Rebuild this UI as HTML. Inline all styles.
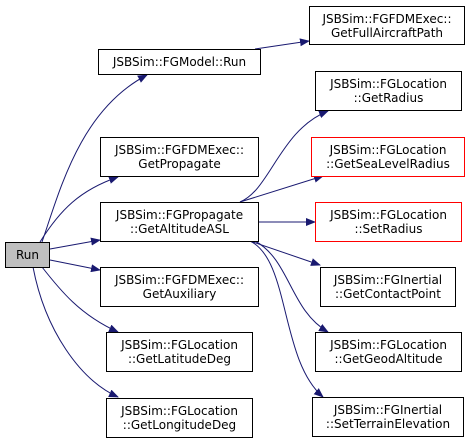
<!DOCTYPE html>
<html><head><style>
body{margin:0;background:#fff;}
.n{position:absolute;box-sizing:border-box;border:1px solid #000;background:#fff;font:12px "DejaVu Sans","Liberation Sans",sans-serif;text-align:center;line-height:14px;display:flex;align-items:center;justify-content:center;color:#000;}
.r{border-color:#f00;}
</style></head><body>
<div style="position:relative;width:473px;height:444px;overflow:hidden">
<svg width="473" height="444" style="position:absolute;left:0;top:0">
<defs><marker id="a" markerWidth="10" markerHeight="8" refX="9" refY="4" orient="auto" markerUnits="userSpaceOnUse"><path d="M0,0L10,4L0,8z" fill="#191970"/></marker></defs>
<g fill="none" stroke="#191970" stroke-width="1" marker-end="url(#a)">
<path d="M42,242C60,190 80,110 147,75"/>
<path d="M40,242C60,210 80,190 118,177"/>
<path d="M50,249L100,240"/>
<path d="M50,260L100,270"/>
<path d="M42,267C60,290 80,315 118,332"/>
<path d="M33,267C45,330 80,380 118,397"/>
<path d="M255,49L309,41"/>
<path d="M240,202C270,190 280,130 328,111"/>
<path d="M240,202L323,176"/>
<path d="M259,222L315,222"/>
<path d="M250,241L320,265"/>
<path d="M255,241C290,260 290,310 328,332"/>
<path d="M250,241C290,260 280,360 323,397"/>
</g></svg>
<div class="n" style="left:5px;top:242px;width:45px;height:26px;background:#bfbfbf">Run</div>
<div class="n" style="left:309px;top:6px;width:156px;height:39px">JSBSim::FGFDMExec::<br>GetFullAircraftPath</div>
<div class="n" style="left:98px;top:49px;width:163px;height:26px">JSBSim::FGModel::Run</div>
<div class="n" style="left:315px;top:71px;width:147px;height:40px">JSBSim::FGLocation<br>::GetRadius</div>
<div class="n" style="left:100px;top:137px;width:159px;height:40px">JSBSim::FGFDMExec::<br>GetPropagate</div>
<div class="n r" style="left:311px;top:137px;width:154px;height:40px">JSBSim::FGLocation<br>::GetSeaLevelRadius</div>
<div class="n" style="left:100px;top:202px;width:159px;height:40px">JSBSim::FGPropagate<br>::GetAltitudeASL</div>
<div class="n r" style="left:315px;top:202px;width:147px;height:40px">JSBSim::FGLocation<br>::SetRadius</div>
<div class="n" style="left:100px;top:267px;width:159px;height:40px">JSBSim::FGFDMExec::<br>GetAuxiliary</div>
<div class="n" style="left:320px;top:267px;width:136px;height:40px">JSBSim::FGInertial<br>::GetContactPoint</div>
<div class="n" style="left:106px;top:332px;width:147px;height:40px">JSBSim::FGLocation<br>::GetLatitudeDeg</div>
<div class="n" style="left:315px;top:332px;width:147px;height:40px">JSBSim::FGLocation<br>::GetGeodAltitude</div>
<div class="n" style="left:106px;top:398px;width:147px;height:40px">JSBSim::FGLocation<br>::GetLongitudeDeg</div>
<div class="n" style="left:312px;top:397px;width:152px;height:40px">JSBSim::FGInertial<br>::SetTerrainElevation</div>
</div>
</body></html>
